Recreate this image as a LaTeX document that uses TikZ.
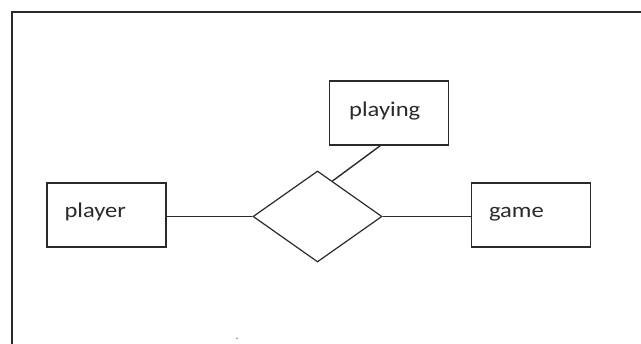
\documentclass[tikz,border=0pt]{standalone}
\usepackage{fontspec}
\setmainfont[FakeStretch=1.17]{Carlito}
\usetikzlibrary{shapes.geometric,calc}
\definecolor{inkgray}{HTML}{2A2A2A}
\tikzset{
  entity/.style={draw=inkgray, line width=1.4pt, minimum width=119pt, minimum height=64pt, inner sep=0pt},
  relation/.style={diamond, draw=inkgray, line width=1.2pt, minimum width=129pt, minimum height=91pt, inner sep=0pt},
  lbl/.style={anchor=base west, inner sep=0pt, text=inkgray, font=\fontsize{21}{21}\selectfont},
  link/.style={draw=inkgray, line width=1.4pt}
}
\begin{document}
\begin{tikzpicture}[x=1pt, y=-1pt]
    \useasboundingbox (0, 0) rectangle (641, 344);
    \clip (0, 0) rectangle (641, 344);
    % outer frame
    \draw[inkgray, line width=2pt] (12.3, 360) -- (12.3, 11.7) -- (660, 11.7);
    % entities
    \node[entity] (player) at (106.5, 215) {};
    \node[entity] (game) at (531, 215) {};
    \node[entity] (playing) at (388.7, 113) {};
    % labels
    \node[lbl] (playertxt) at ($(player.west)+(18, 3)$) {player};
    \node[lbl] (gametxt) at ($(game.west)+(18, 2.3)$) {game};
    \node[lbl] (playingtxt) at ($(playing.west)+(20.5, 3.7)$) {playing};
    % relationship
    \node[relation] (rel) at (317.5, 216.5) {};
    \coordinate (edge) at ($(rel.north)!0.23!(rel.east)$);
    \coordinate (foot) at ($(playing.south west)!0.43!(playing.south east)$);
    % connectors
    \path[link] (rel.west) -- (rel.west -| player.east);
    \path[link] (rel.east) -- (rel.east -| game.west);
    \path[link] (foot) -- (edge);
    % stray mark
    \fill[gray] (237, 338.3) circle (0.9);
\end{tikzpicture}
\end{document}
